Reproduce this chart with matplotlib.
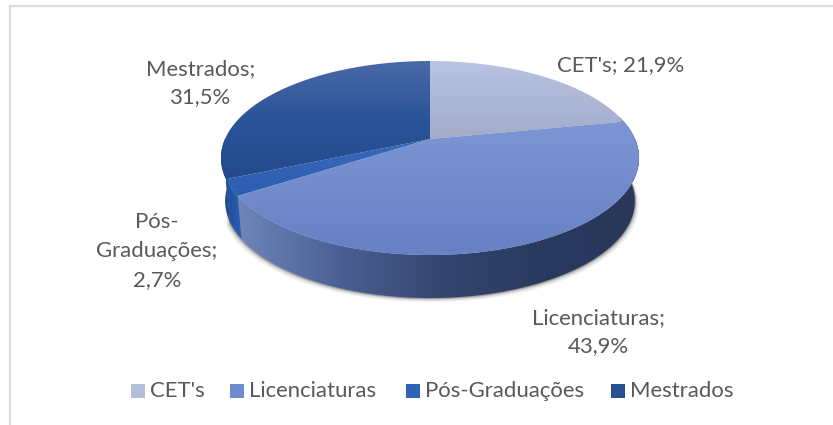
import numpy as np
import matplotlib
matplotlib.use("Agg")
import matplotlib.pyplot as plt
from matplotlib.path import Path
from matplotlib.patches import PathPatch, Rectangle
from matplotlib.colors import LinearSegmentedColormap

plt.rcParams['font.family'] = ['Lato', 'DejaVu Sans']

categories = ["CET's", "Licenciaturas", "Pós-Graduações", "Mestrados"]
values = [21.9, 43.9, 2.7, 31.5]
data_labels = ["CET's; 21,9%", "Licenciaturas;\n43,9%", "Pós-\nGraduações;\n2,7%", "Mestrados;\n31,5%"]

# top face gradient of every slice, top to bottom
top_colors = [["#b9c3e2", "#a3abc9"],
              ["#7d96d3", "#6681c4"],
              ["#3a68bd", "#2c5db0"],
              ["#4a6aa6", "#2a5499", "#23498c"]]
legend_colors = ["#b4bedd", "#6f8bcf", "#2f62b8", "#26508f"]

# pie position on the image, in pixels
cx, cy = 430, 139
sx, sy = 205, 93.3
k = 0.196
depth = 43
shrink = 0.98
text_color = "#595959"


def project(theta):
    # clockwise angle from the top, with a bit of perspective
    x = np.sin(theta)
    y = -np.cos(theta)
    w = 1 - k * y
    return cx + sx * x / w, cy + sy * y / w


def wall(t0, t1, n=200):
    ex, ey = project(np.linspace(t0, t1, n))
    low_x = cx + (ex - cx) * shrink
    return np.vstack([np.column_stack([ex, ey]), np.column_stack([low_x, ey + depth])[::-1]])


def fill_gradient(ax, verts, colors, horizontal=False, extent=None, z=3):
    verts = np.asarray(verts)
    patch = PathPatch(Path(verts), fc="none", ec="none")
    ax.add_patch(patch)
    cmap = LinearSegmentedColormap.from_list("c", colors)
    grad = np.linspace(0, 1, 256)
    grad = grad.reshape(1, -1) if horizontal else grad.reshape(-1, 1)
    if extent is None:
        extent = (verts[:, 0].min(), verts[:, 0].max(), verts[:, 1].max(), verts[:, 1].min())
    im = ax.imshow(grad, cmap=cmap, extent=extent, aspect="auto", zorder=z, interpolation="bilinear")
    im.set_clip_path(patch)
    return im


fig = plt.figure(figsize=(8.33, 4.25), dpi=100)
ax = fig.add_axes([0, 0, 1, 1])

# chart frame, open at the right and the bottom like the crop
ax.plot([10.5, 10.5], [425, 5.5], color="#dcdcdc", lw=1.6, zorder=1)
ax.plot([10.5, 833], [5.5, 5.5], color="#dcdcdc", lw=1.6, zorder=1)

fracs = np.cumsum([0] + values) / sum(values) * 2 * np.pi

# soft shadow under the side wall
shadow = wall(np.pi * 0.45, fracs[3])
n = len(shadow) // 2
for off, alpha in [(5, 0.05), (3.5, 0.08), (2, 0.14), (1, 0.2)]:
    s = shadow.copy()
    s[n:, 1] += off * 0.8
    s[n:, 0] += off * np.sign(s[n:, 0] - cx) * 0.8
    ax.add_patch(plt.Polygon(s, fc="#000000", ec="none", alpha=alpha, zorder=2))

# side walls of the front slices
fill_gradient(ax, wall(np.pi * 0.42, fracs[2]),
              ["#28375a", "#2a3a5f", "#35466f", "#4c6095", "#6f86bb"], horizontal=True,
              extent=(cx + sx * 1.03, cx - sx * 0.94, 300, 100))
fill_gradient(ax, wall(fracs[2], fracs[3], 60), ["#1f4e9a", "#2b5fb4"], horizontal=True)
fill_gradient(ax, wall(fracs[3], np.pi * 1.5, 40), ["#1d4a90", "#1d4a90"])

# top faces
for i in range(len(values)):
    ex, ey = project(np.linspace(fracs[i], fracs[i + 1], 200))
    verts = np.vstack([[cx, cy], np.column_stack([ex, ey]), [cx, cy]])
    fill_gradient(ax, verts, top_colors[i], z=4)

# data labels
label_pos = [(621, 65), (598, 332), (157, 251), (201, 83)]
for txt, (lx, ly) in zip(data_labels, label_pos):
    ax.text(lx, ly, txt, ha="center", va="center", color=text_color, fontsize=15.9,
            linespacing=1.54, zorder=6)

# legend
swatch_x = [131, 230, 406, 611]
for name, c, x0 in zip(categories, legend_colors, swatch_x):
    ax.add_patch(Rectangle((x0, 384), 14, 14, fc=c, ec="none", zorder=6))
    ax.text(x0 + 19, 391, name, ha="left", va="center", color=text_color, fontsize=15.9, zorder=6)

ax.set_xlim(0, 833)
ax.set_ylim(425, 0)
ax.axis("off")
fig.savefig("out.png", dpi=100)
